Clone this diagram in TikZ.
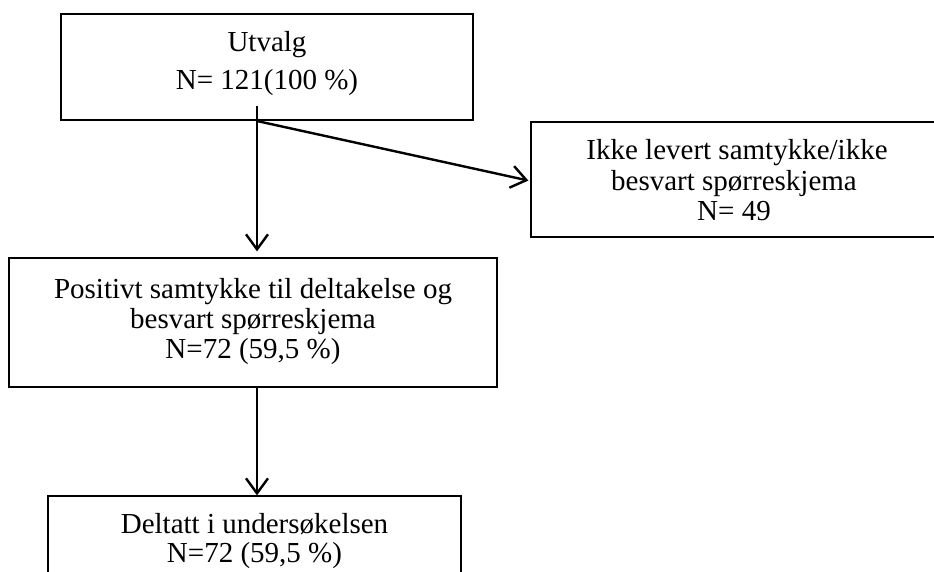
\documentclass[tikz,border=0pt]{standalone}
\usepackage{fontspec}
\setmainfont{Liberation Serif}
\usetikzlibrary{arrows.meta}
\tikzset{
  box/.style={draw=black, line width=1.3pt, rectangle, inner sep=0pt},
  txt/.style={anchor=base, inner sep=0pt, font=\fontsize{29}{30}\selectfont},
  conn/.style={line width=2.4pt, -{Straight Barb[length=15pt,width=22pt,line width=2.4pt]}},
}
\begin{document}
\begin{tikzpicture}[x=1pt,y=-1pt]
\useasboundingbox (0,0) rectangle (934,571);
% boxes
\node[box, minimum width=412pt, minimum height=106pt] (utv) at (267,67) {};
\node[box, minimum width=407pt, minimum height=115pt] (ikke) at (734.5,179.5) {};
\node[box, minimum width=488pt, minimum height=129pt] (pos) at (253,322.5) {};
\node[box, minimum width=413pt, minimum height=100pt] (delt) at (254.5,546) {};
% texts
\node[txt] (t1) at (267,51) {Utvalg};
\node[txt] (t2) at (267,89) {N= 121(100 \%)};
\node[txt] (t3) at (737,159) {Ikke levert samtykke/ikke};
\node[txt] (t4) at (734,190) {besvart spørreskjema};
\node[txt] (t5) at (734,220) {N= 49};
\node[txt] (t6) at (253,298) {Positivt samtykke til deltakelse og};
\node[txt] (t7) at (253,328) {besvart spørreskjema};
\node[txt] (t8) at (253,358) {N=72 (59,5 \%)};
\node[txt] (t9) at (254.5,533) {Deltatt i undersøkelsen};
\node[txt] (t10) at (254.5,562) {N=72 (59,5 \%)};
% connectors
\coordinate (s1) at (257,106);
\coordinate (s2) at (257,121);
\draw[conn, shorten >=6pt] (s1) -- (s1 |- pos.north);
\draw[conn, shorten >=2pt] (s2) -- ([yshift=-1.5pt]ikke.west);
\draw[conn] (s1 |- pos.south) -- (s1 |- delt.north);
\end{tikzpicture}
\end{document}
